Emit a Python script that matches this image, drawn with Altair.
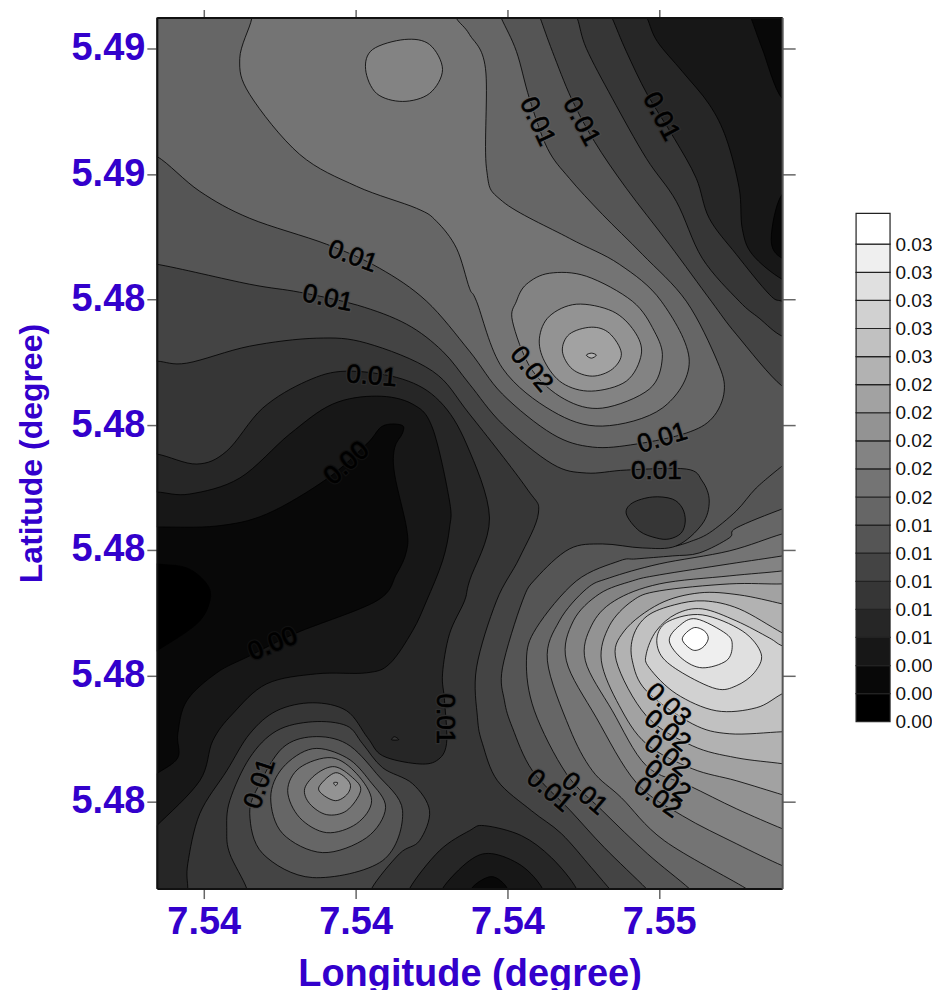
import altair as alt
import pandas as pd

band_grey = [0, 8, 23, 38, 54, 68, 85, 102, 116, 131, 147, 162, 178, 193, 209, 224, 239, 255]
level_values = [0.0, 0.002, 0.004, 0.006, 0.008, 0.01, 0.012, 0.014, 0.016, 0.018, 0.02, 0.022, 0.024, 0.026, 0.028, 0.03, 0.032, 0.034, 0.0362]

# Contour outlines, (longitude, latitude) in units of 1e-5 degree
frame = [(753980,548680),(754660,548680),(754660,547775),(753980,547775)]
basin_l1 = [(753970,548070),(753990,548120),(754007,548117),(754037,548113),(754057,548097),(754060,548080),(754047,548057),(754007,548030),(753990,548020)]
r2 = [(753990,548154),(754007,548154),(754067,548155),(754117,548167),(754177,548202),(754217,548237),(754233,548255),(754252,548256),(754253,548248),(754245,548233),(754245,548207),(754257,548153),(754257,548130),(754247,548107),(754227,548080),(754147,548048),(754100,548025),(754067,548008),(754037,547980),(754028,547947),(754028,547923),(754007,547907),(753990,547895),(753980,547775),(754322,547775),(754322,547792),(754342,547804),(754358,547792),(754358,547775),(754660,547775),(754660,548420),(754633,548423),(754622,548442),(754633,548487),(754660,548490),(754660,548580),(754633,548583),(754613,548633),(754602,548663),(754595,548680),(753980,548680)]
r3 = [(753980,548189),(754007,548189),(754040,548187),(754090,548203),(754140,548247),(754183,548277),(754227,548285),(754263,548277),(754283,548253),(754300,548180),(754300,548153),(754293,548120),(754277,548080),(754263,548050),(754240,548017),(754217,548008),(754167,548007),(754117,547997),(754083,547967),(754063,547940),(754050,547900),(754007,547855),(753985,547835),(753980,547775),(754293,547775),(754293,547792),(754320,547820),(754342,547827),(754372,547815),(754393,547792),(754393,547775),(754660,547775),(754660,548395),(754633,548402),(754603,548427),(754593,548453),(754590,548493),(754577,548543),(754560,548577),(754533,548610),(754508,548640),(754498,548663),(754490,548680),(753980,548680)]
r4 = [(753980,548227),(754007,548227),(754047,548217),(754077,548230),(754113,548273),(754157,548300),(754197,548310),(754253,548302),(754290,548280),(754317,548237),(754340,548163),(754320,548100),(754315,548080),(754300,548047),(754293,548007),(754295,547980),(754297,547937),(754287,547920),(754267,547917),(754233,547925),(754218,547943),(754197,547970),(754163,547978),(754127,547970),(754100,547947),(754077,547910),(754050,547867),(754038,547817),(754038,547792),(754038,547775),(754260,547775),(754260,547792),(754290,547830),(754320,547850),(754335,547855),(754372,547845),(754402,547823),(754427,547792),(754427,547775),(754660,547775),(754660,548375),(754633,548380),(754620,548387),(754587,548427),(754560,548463),(754547,548503),(754525,548543),(754498,548587),(754477,548630),(754463,548663),(754455,548680),(753980,548680)]
speck = [(754245,547944),(754242,547941),(754249,547941)]
r5 = [(753980,548320),(754007,548320),(754037,548318),(754100,548335),(754167,548343),(754217,548338),(754283,548310),(754320,548267),(754377,548193),(754389,548168),(754370,548123),(754347,548080),(754327,548013),(754328,547963),(754333,547937),(754348,547900),(754382,547870),(754412,547847),(754442,547813),(754460,547792),(754475,547775),(754660,547775),(754660,548340),(754633,548345),(754610,548363),(754590,548380),(754553,548423),(754527,548480),(754497,548523),(754463,548583),(754437,548633),(754428,548663),(754420,548680),(753980,548680)]
r5_hill = [(754097,547775),(754097,547792),(754080,547827),(754077,547850),(754080,547880),(754100,547923),(754127,547950),(754163,547959),(754197,547955),(754213,547937),(754233,547913),(754263,547897),(754280,547870),(754270,547840),(754250,547827),(754222,547792),(754222,547775)]
oval = [(754477,548167),(754483,548178),(754503,548184),(754523,548182),(754533,548173),(754536,548160),(754532,548148),(754520,548142),(754507,548143),(754490,548150)]
r6 = [(753980,548417),(754007,548417),(754100,548397),(754150,548389),(754208,548376),(754257,548357),(754293,548330),(754320,548297),(754353,548257),(754403,548217),(754437,548208),(754477,548211),(754537,548212),(754553,548200),(754560,548180),(754553,548157),(754527,548135),(754493,548133),(754453,548137),(754420,548132),(754387,548103),(754373,548080),(754353,548013),(754355,547980),(754363,547953),(754383,547910),(754421,547870),(754455,547833),(754497,547792),(754512,547775),(754660,547775),(754660,548290),(754633,548295),(754587,548347),(754562,548380),(754520,548437),(754477,548493),(754445,548540),(754422,548583),(754403,548630),(754391,548663),(754385,548680),(753980,548680)]
r6_hill = [(754100,547867),(754110,547897),(754133,547933),(754163,547944),(754197,547937),(754227,547907),(754253,547870),(754233,547820),(754163,547803),(754113,547827)]
r7 = [(753980,548530),(754007,548525),(754050,548490),(754100,548463),(754177,548437),(754230,548413),(754277,548380),(754320,548330),(754353,548287),(754403,548247),(754443,548234),(754487,548237),(754537,548248),(754563,548263),(754575,548290),(754568,548320),(754537,548380),(754493,548427),(754453,548467),(754420,548503),(754398,548533),(754380,548583),(754367,548630),(754352,548663),(754345,548680),(753980,548680)]
r7_peak = [(754660,548180),(754633,548172),(754587,548153),(754580,548143),(754550,548128),(754523,548125),(754487,548122),(754470,548120),(754427,548100),(754387,548053),(754377,548020),(754385,547970),(754417,547907),(754453,547870),(754498,547827),(754540,547792),(754555,547775),(754660,547775)]
r7_hill = [(754121,547883),(754133,547913),(754163,547932),(754197,547923),(754220,547900),(754236,547873),(754217,547843),(754173,547828),(754133,547847)]
r8 = [(754100,548680),(754102,548663),(754090,548623),(754100,548587),(754150,548527),(754207,548495),(754267,548473),(754287,548460),(754307,548433),(754320,548393),(754327,548380),(754353,548313),(754403,548270),(754453,548255),(754513,548273),(754540,548320),(754512,548380),(754470,548417),(754420,548443),(754353,548480),(754337,548513),(754336,548613),(754320,548647),(754307,548663),(754300,548680)]
r8_peak = [(754660,548152),(754633,548147),(754580,548130),(754510,548117),(754460,548103),(754437,548092),(754410,548060),(754398,548020),(754420,547953),(754443,547910),(754472,547883),(754515,547840),(754597,547792),(754620,547775),(754660,547775)]
r8_hill = [(754138,547890),(754150,547913),(754182,547923),(754207,547907),(754222,547880),(754207,547857),(754177,547848),(754150,547863)]
r9_circle = [(754255,548642),(754280,548637),(754293,548612),(754280,548588),(754253,548580),(754227,548588),(754216,548612),(754223,548632)]
r9_loop = [(754367,548380),(754377,548397),(754400,548408),(754437,548405),(754483,548380),(754505,548350),(754513,548323),(754500,548292),(754453,548273),(754415,548282),(754382,548312),(754363,548360)]
r9_peak = [(754660,548130),(754633,548125),(754580,548117),(754510,548106),(754483,548100),(754450,548087),(754424,548060),(754417,548020),(754447,547963),(754487,547898),(754533,547865),(754587,547837),(754633,547815),(754660,547805),(754680,547980)]
r9_hill = [(754155,547892),(754167,547907),(754185,547914),(754203,547903),(754211,547890),(754197,547870),(754177,547866),(754160,547877)]
r10_loop = [(754427,548377),(754463,548370),(754485,548350),(754492,548327),(754477,548300),(754442,548290),(754413,548298),(754395,548320),(754390,548343),(754400,548365)]
r10_peak = [(754660,548115),(754633,548110),(754580,548105),(754510,548097),(754465,548080),(754442,548055),(754436,548020),(754463,547970),(754497,547915),(754540,547895),(754587,547872),(754633,547852),(754660,547842),(754680,547980)]
r10_hill = [(754170,547895),(754186,547908),(754200,547898),(754198,547887),(754186,547880),(754172,547887)]
r11_loop = [(754442,548354),(754460,548348),(754472,548328),(754463,548312),(754443,548305),(754423,548312),(754413,548330),(754420,548347)]
r11_peak = [(754660,548100),(754633,548097),(754580,548097),(754510,548090),(754483,548080),(754460,548055),(754452,548020),(754470,547975),(754497,547937),(754543,547912),(754587,547900),(754633,547886),(754660,547878),(754680,547980)]
r11_hill = [(754184,547898),(754188,547898),(754186,547895)]
r12_loop = [(754437,548326),(754442,548328),(754447,548326),(754442,548323)]
r12_peak = [(754660,548070),(754633,548077),(754590,548086),(754550,548088),(754510,548077),(754475,548050),(754467,548020),(754497,547965),(754543,547935),(754587,547923),(754633,547917),(754660,547912),(754680,547980)]
r13_peak = [(754660,548035),(754633,548048),(754590,548072),(754555,548080),(754525,548076),(754498,548065),(754484,548045),(754483,548020),(754497,547990),(754543,547957),(754580,547947),(754633,547949),(754660,547950)]
r14_peak = [(754660,548025),(754633,548035),(754620,548043),(754587,548060),(754553,548072),(754527,548067),(754507,548050),(754497,548027),(754500,548013),(754527,547987),(754567,547970),(754607,547973),(754633,547987),(754660,548000)]
r15_peak = [(754553,548066),(754593,548050),(754612,548027),(754605,548008),(754587,547995),(754567,547992),(754533,548008),(754512,548025),(754508,548045),(754520,548060)]
r16_peak = [(754520,548040),(754530,548055),(754547,548062),(754577,548047),(754583,548035),(754577,548020),(754553,548013),(754533,548022)]
r17_peak = [(754533,548042),(754544,548053),(754555,548050),(754559,548042),(754553,548033),(754543,548031)]
extra_line = [(754633,548215),(754607,548193),(754587,548170),(754560,548148),(754540,548139),(754527,548135)]

# (band index, outline) in painting order
painted = [
    (1, frame), (0, basin_l1), (2, r2), (3, r3), (4, r4), (4, speck),
    (5, r5), (5, r5_hill), (4, oval), (6, r6), (6, r6_hill),
    (7, r7), (7, r7_peak), (7, r7_hill),
    (8, r8), (8, r8_peak), (8, r8_hill),
    (9, r9_circle), (9, r9_loop), (9, r9_peak), (9, r9_hill),
    (10, r10_loop), (10, r10_peak), (10, r10_hill),
    (11, r11_loop), (11, r11_peak), (11, r11_hill),
    (12, r12_loop), (12, r12_peak),
    (13, r13_peak), (14, r14_peak), (15, r15_peak), (16, r16_peak), (17, r17_peak),
]

# Contour labels
label_text = ["0.01","0.01","0.01","0.00","0.01","0.01","0.01","0.02","0.01","0.01","0.00","0.01","0.01","0.01","0.01","0.03","0.02","0.02","0.02","0.02"]
label_lon = [754203,754178,754222,754197,754388,754432,754512,754382,754513,754507,754123,754295,754110,754400,754435,754519,754518,754518,754518,754508]
label_lat = [548425,548383,548305,548218,548560,548560,548565,548312,548243,548210,548037,547962,547897,547890,547887,547976,547950,547925,547900,547883]
label_angle = [20,12,5,318,65,62,62,50,343,0,338,90,288,40,40,42,38,38,38,35]
label_under = [94,76,46,16,94,76,46,123,94,76,16,46,76,76,94,186,170,154,139,123]

lon_ticks = [7.54054, 7.54206, 7.54358, 7.5451]
lat_ticks = [5.47879, 5.48005, 5.48131, 5.48256, 5.48382, 5.48507, 5.48633]

def grey(v):
    return "#{0:02x}{0:02x}{0:02x}".format(v)

rows = []
for pid, (band, pts) in enumerate(painted):
    for i, (lo, la) in enumerate(pts):
        rows.append({"poly": pid, "i": i, "lon": lo / 1e5, "lat": la / 1e5, "col": grey(band_grey[band])})
poly_df = pd.DataFrame(rows)
extra_df = pd.DataFrame({"lon": [p[0] / 1e5 for p in extra_line], "lat": [p[1] / 1e5 for p in extra_line], "i": range(len(extra_line))})
label_df = pd.DataFrame({
    "t": label_text,
    "lon": [v / 1e5 for v in label_lon],
    "lat": [v / 1e5 for v in label_lat],
    "a": label_angle,
    "u": [grey(v) for v in label_under],
})

BLUE = "#3300cc"
FONT = "Liberation Sans"
xs = alt.Scale(domain=[7.54007, 7.54633], nice=False, zero=False)
ys = alt.Scale(domain=[5.47792, 5.48664], nice=False, zero=False)

x_bottom = alt.Axis(values=lon_ticks, format=".2f", title="Longitude (degree)", grid=False, zindex=1,
                    tickSize=10, tickColor="#666666", tickWidth=1.5, domainColor="#111111", domainWidth=2,
                    labelFont=FONT, labelFontSize=38, labelFontWeight="bold", labelColor=BLUE, labelPadding=5,
                    labelOverlap=False, labelFlush=False,
                    titleFont=FONT, titleFontSize=38, titleFontWeight="bold", titleColor=BLUE, titlePadding=14)
y_left = alt.Axis(values=lat_ticks, format=".2f", title="Latitude (degree)", grid=False, zindex=1,
                  tickSize=10, tickColor="#666666", tickWidth=1.5, domainColor="#111111", domainWidth=2,
                  labelFont=FONT, labelFontSize=38, labelFontWeight="bold", labelColor=BLUE, labelPadding=2,
                  labelOverlap=False, labelFlush=False,
                  titleFont=FONT, titleFontSize=32, titleFontWeight="bold", titleColor=BLUE, titlePadding=23)
x_top = alt.Axis(orient="top", values=lon_ticks, labels=False, title=None, grid=False, zindex=1,
                 tickSize=8, tickColor="#666666", tickWidth=1.5, domainColor="#111111", domainWidth=2)
y_right = alt.Axis(orient="right", values=lat_ticks, labels=False, title=None, grid=False, zindex=1,
                   tickSize=13, tickColor="#666666", tickWidth=1.5, domainColor="#555555", domainWidth=2)

bands = alt.Chart(poly_df).mark_line(interpolate="cardinal-closed", tension=0, clip=True,
                                     stroke="black", strokeWidth=0.8, fill="#000000").encode(
    x=alt.X("lon:Q", scale=xs, axis=x_bottom),
    y=alt.Y("lat:Q", scale=ys, axis=y_left),
    detail="poly:N",
    fill=alt.Fill("col:N", scale=None),
    order="i:Q",
)
extra = alt.Chart(extra_df).mark_line(interpolate="cardinal", tension=0, clip=True, stroke="black", strokeWidth=0.8).encode(
    x=alt.X("lon:Q", scale=xs, axis=None),
    y=alt.Y("lat:Q", scale=ys, axis=None),
    order="i:Q",
)
halo = alt.Chart(label_df).mark_text(font=FONT, fontSize=26, strokeWidth=3).encode(
    x=alt.X("lon:Q", scale=xs, axis=x_top),
    y=alt.Y("lat:Q", scale=ys, axis=y_right),
    text="t:N",
    angle=alt.Angle("a:Q", scale=None),
    stroke=alt.Stroke("u:N", scale=None),
    fill=alt.Fill("u:N", scale=None),
)
ink = alt.Chart(label_df).mark_text(font=FONT, fontSize=26, color="black", stroke="black", strokeWidth=0.6).encode(
    x=alt.X("lon:Q", scale=xs, axis=None),
    y=alt.Y("lat:Q", scale=ys, axis=None),
    text="t:N",
    angle=alt.Angle("a:Q", scale=None),
)
main = alt.layer(bands, extra, halo, ink).resolve_axis(x="independent", y="independent").properties(width=626, height=872)

# Colour key
key_df = pd.DataFrame({
    "lo": level_values[:-1],
    "hi": level_values[1:],
    "col": [grey(v) for v in band_grey],
})
key = alt.Chart(key_df).mark_rect(stroke="#222222", strokeWidth=1.2).encode(
    y=alt.Y("lo:Q", scale=alt.Scale(domain=[-0.01188, 0.05014], nice=False, zero=False),
            axis=alt.Axis(orient="right", values=level_values[:-1], format=".2f", title=None, grid=False,
                          domain=False, ticks=False, labelPadding=5, labelFont=FONT, labelFontSize=19,
                          labelColor="#111111", labelOverlap=False, labelFlush=False)),
    y2="hi:Q",
    fill=alt.Fill("col:N", scale=None),
).properties(width=34, height=872)

chart = alt.hconcat(main, key, spacing=59, padding={"left": 7, "top": 0, "right": 0, "bottom": 0}).configure_view(stroke=None)
chart.save("out.html", embed_options={"renderer": "svg", "actions": False})
